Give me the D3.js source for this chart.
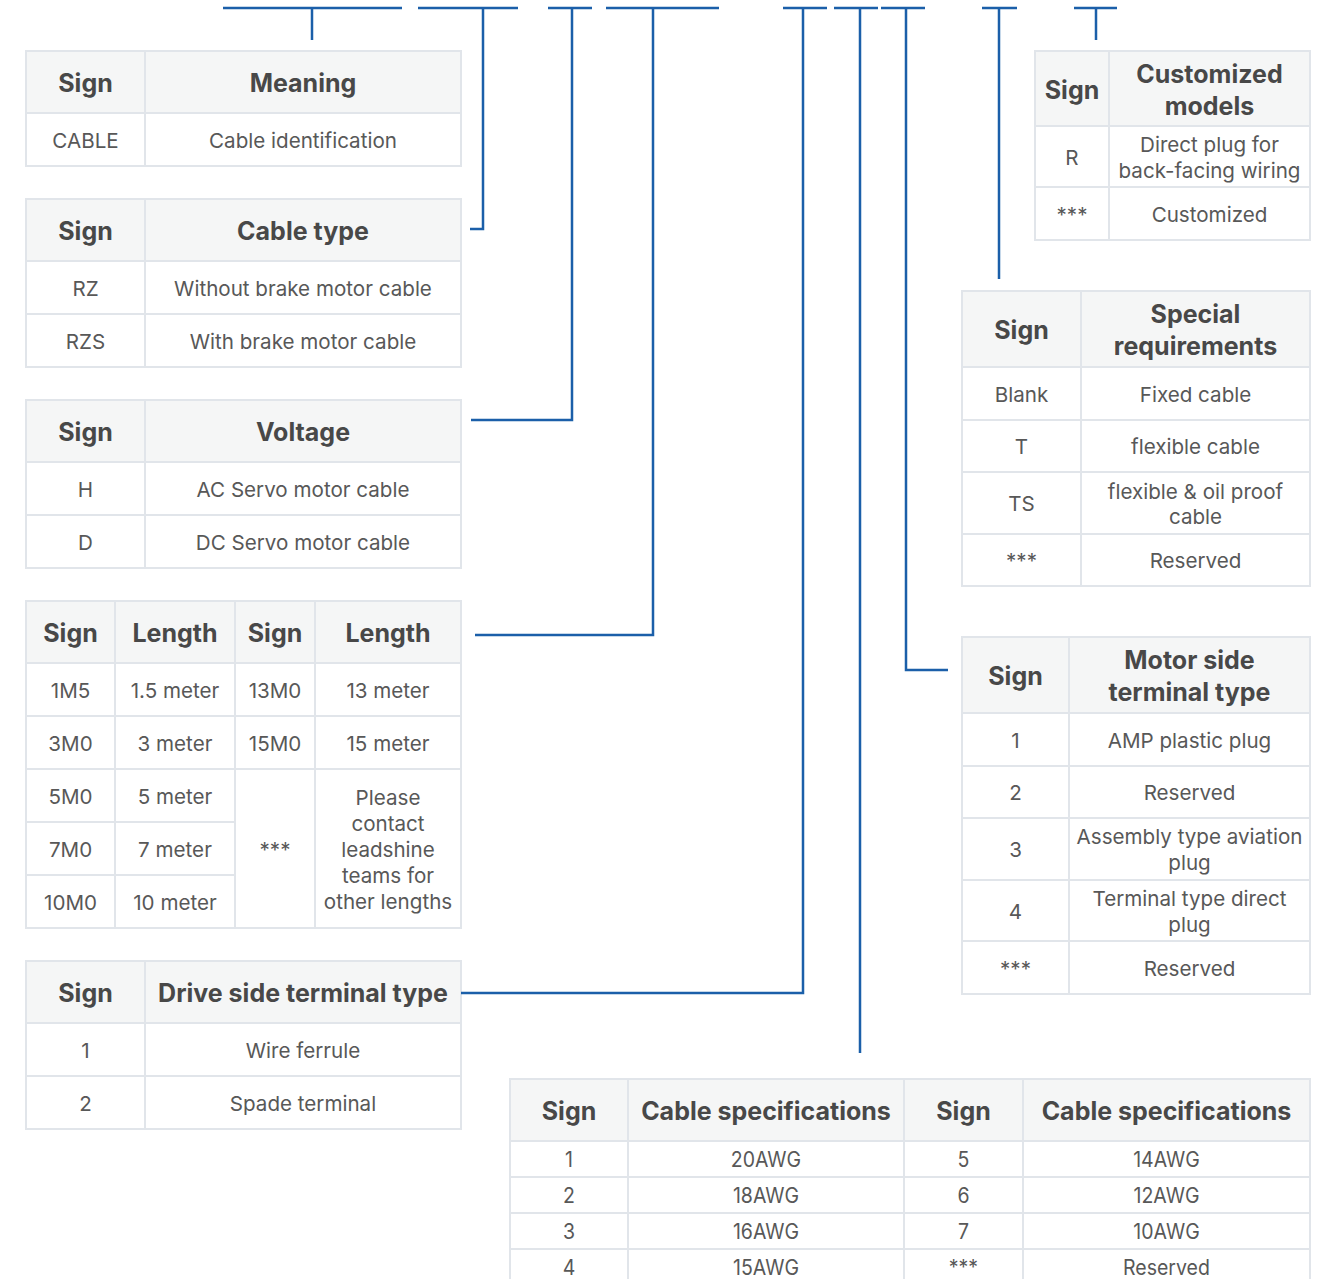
<!DOCTYPE html>
<html><head><meta charset="utf-8">
<script src="https://cdn.jsdelivr.net/npm/d3@7"></script>
<style>
html,body{margin:0;padding:0;background:#fff;}
svg{display:block;font-family:Inter,"Noto Sans",sans-serif;}
</style></head>
<body><svg id="c" width="1325" height="1279"></svg>
<script>
// ---------- data ----------
const meaningHeader = ["Sign", "Meaning"];
const meaningRows = [["CABLE", "Cable identification"]];

const cableTypeHeader = ["Sign", "Cable type"];
const cableTypeRows = [["RZ", "Without brake motor cable"], ["RZS", "With brake motor cable"]];

const voltageHeader = ["Sign", "Voltage"];
const voltageRows = [["H", "AC Servo motor cable"], ["D", "DC Servo motor cable"]];

const lengthHeader = ["Sign", "Length", "Sign", "Length"];
const lengthRowsLeft = [["1M5", "1.5 meter"], ["3M0", "3 meter"], ["5M0", "5 meter"], ["7M0", "7 meter"], ["10M0", "10 meter"]];
const lengthRowsRight = [["13M0", "13 meter"], ["15M0", "15 meter"]];
const lengthOther = ["***", "Please\ncontact\nleadshine\nteams for\nother lengths"];

const driveHeader = ["Sign", "Drive side terminal type"];
const driveRows = [["1", "Wire ferrule"], ["2", "Spade terminal"]];

const customHeader = ["Sign", "Customized\nmodels"];
const customRows = [["R", "Direct plug for\nback-facing wiring"], ["***", "Customized"]];

const specialHeader = ["Sign", "Special\nrequirements"];
const specialRows = [["Blank", "Fixed cable"], ["T", "flexible cable"], ["TS", "flexible & oil proof\ncable"], ["***", "Reserved"]];

const motorHeader = ["Sign", "Motor side\nterminal type"];
const motorRows = [["1", "AMP plastic plug"], ["2", "Reserved"], ["3", "Assembly type aviation\nplug"], ["4", "Terminal type direct\nplug"], ["***", "Reserved"]];

const specHeader = ["Sign", "Cable specifications", "Sign", "Cable specifications"];
const specRows = [["1", "20AWG", "5", "14AWG"], ["2", "18AWG", "6", "12AWG"], ["3", "16AWG", "7", "10AWG"], ["4", "15AWG", "***", "Reserved"]];

// ---------- style ----------
const LINE = "#1b5fa9", BORDER = "#e1e5ea", HEADBG = "#f5f6f6";
const HEADCOL = "#484848", BODYCOL = "#585858";

const svg = d3.select("#c");
const gTables = svg.append("g");
const gLines = svg.append("g");

function drawCell(g, x0, x1, y0, y1, text, head, opt = {}) {
  g.append("rect").attr("x", x0).attr("y", y0).attr("width", x1 - x0).attr("height", y1 - y0)
    .attr("fill", head ? HEADBG : "#fff").attr("stroke", BORDER).attr("stroke-width", 2);
  const lines = text.split("\n");
  const lh = head ? 32 : (opt.lh || 26);
  const cy = (y0 + y1) / 2;
  const t = g.append("text").attr("text-anchor", "middle")
    .attr("font-size", head ? 25 : (opt.fs || 20.6)).attr("font-weight", head ? 700 : 400)
    .attr("fill", head ? HEADCOL : BODYCOL);
  if (opt.sx && !head) t.attr("transform", `translate(${(x0 + x1) / 2},0) scale(${opt.sx},1) translate(${-(x0 + x1) / 2},0)`);
  lines.forEach((s, i) => {
    t.append("tspan").attr("x", (x0 + x1) / 2)
      .attr("y", cy + (i - (lines.length - 1) / 2) * lh)
      .attr("dy", "0.4em").text(s);
  });
}

// generic table: cols = x boundaries, rowsY = y boundaries (first is header)
function table(cols, rowsY, header, rows, opt = {}) {
  const g = gTables.append("g");
  const xs = d3.scaleOrdinal().domain(d3.range(cols.length)).range(cols);
  header.forEach((h, j) => drawCell(g, xs(j), xs(j + 1), rowsY[0], rowsY[1], h, true));
  rows.forEach((r, i) => r.forEach((c, j) =>
    drawCell(g, xs(j), xs(j + 1), rowsY[i + 1], rowsY[i + 2], c, false, opt)));
  return g;
}

// ---------- tables ----------
table([26, 145, 461], [51, 113, 166], meaningHeader, meaningRows);
table([26, 145, 461], [199, 261, 314, 367], cableTypeHeader, cableTypeRows);
table([26, 145, 461], [400, 462, 515, 568], voltageHeader, voltageRows);

// length table (with merged cell)
{
  const cols = [26, 115, 235, 315, 461];
  const ys = [601, 663, 716, 769, 822, 875, 928];
  const g = gTables.append("g");
  lengthHeader.forEach((h, j) => drawCell(g, cols[j], cols[j + 1], ys[0], ys[1], h, true));
  lengthRowsLeft.forEach((r, i) => r.forEach((c, j) => drawCell(g, cols[j], cols[j + 1], ys[i + 1], ys[i + 2], c, false)));
  lengthRowsRight.forEach((r, i) => r.forEach((c, j) => drawCell(g, cols[j + 2], cols[j + 3], ys[i + 1], ys[i + 2], c, false)));
  lengthOther.forEach((c, j) => drawCell(g, cols[j + 2], cols[j + 3], ys[lengthRowsRight.length + 1], ys[ys.length - 1], c, false));
}

table([26, 145, 461], [961, 1023, 1076, 1129], driveHeader, driveRows);
table([1035, 1109, 1310], [51, 126, 187, 240], customHeader, customRows);
table([962, 1081, 1310], [291, 367, 420, 472, 534, 586], specialHeader, specialRows, { lh: 25 });
table([962, 1069, 1310], [637, 713, 766, 818, 880, 941, 994], motorHeader, motorRows);
table([510, 628, 904, 1023, 1310], [1079, 1141, 1177, 1213, 1249, 1285], specHeader, specRows, { sx: 0.93, fs: 21 });

// ---------- connector lines ----------
const connectors = [
  { x1: 223, x2: 402, stem: 312, y: 40 },
  { x1: 418, x2: 518, stem: 483, y: 229, to: 470 },
  { x1: 548, x2: 592, stem: 572, y: 420, to: 471 },
  { x1: 606, x2: 719, stem: 653, y: 635, to: 475 },
  { x1: 783, x2: 827, stem: 803, y: 993, to: 461 },
  { x1: 834, x2: 878, stem: 860, y: 1053 },
  { x1: 881, x2: 925, stem: 906, y: 670, to: 948 },
  { x1: 982, x2: 1017, stem: 999, y: 279 },
  { x1: 1074, x2: 1117, stem: 1096, y: 40 }
];
const topY = 8;
connectors.forEach(c => {
  gLines.append("line").attr("x1", c.x1).attr("x2", c.x2).attr("y1", topY).attr("y2", topY)
    .attr("stroke", LINE).attr("stroke-width", 2.5);
  const p = d3.path();
  p.moveTo(c.stem, topY);
  p.lineTo(c.stem, c.y);
  if (c.to !== undefined) p.lineTo(c.to, c.y);
  gLines.append("path").attr("d", p.toString()).attr("fill", "none")
    .attr("stroke", LINE).attr("stroke-width", 2.5);
});
</script>
</body></html>
